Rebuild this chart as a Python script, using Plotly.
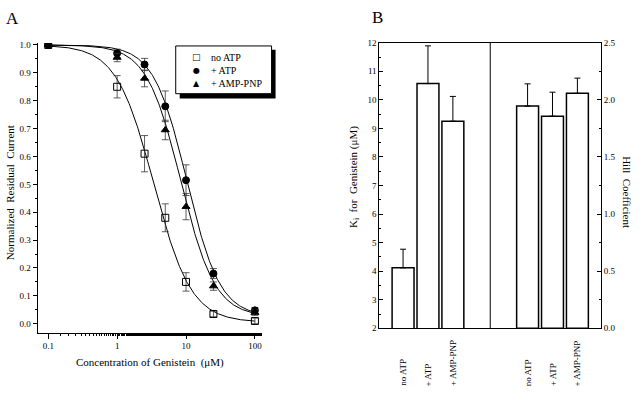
import numpy as np
import plotly.graph_objects as go

# ---------------- Panel A data ----------------
conc = [0.1, 1, 2.5, 5, 10, 25, 100]
noatp = [1.0, 0.85, 0.61, 0.38, 0.15, 0.035, 0.01]
noatp_err = [0.0, 0.04, 0.065, 0.05, 0.033, 0.01, 0.01]
atp = [1.0, 0.97, 0.93, 0.78, 0.515, 0.18, 0.048]
atp_err = [0.0, 0.015, 0.022, 0.055, 0.055, 0.018, 0.01]
amp = [1.0, 0.955, 0.88, 0.695, 0.42, 0.135, 0.04]
amp_err = [0.0, 0.015, 0.03, 0.035, 0.047, 0.015, 0.01]

# fitted dose-response curve parameters
fit_names = ["no ATP", "+ ATP", "+ AMP-PNP"]
fit_K = [3.4, 10.3, 8.4]
fit_n = [1.6, 1.8, 1.75]
fit_base = [0.005, 0.025, 0.025]

legend_labels = ["no ATP", "+ ATP", "+ AMP-PNP"]
legend_glyphs = ["□", "●", "▲"]

# ---------------- Panel B data ----------------
groups = ["no ATP", "+ ATP", "+ AMP-PNP"]
ki_vals = [4.12, 10.57, 9.25]
ki_err = [0.65, 1.32, 0.87]
hill_vals = [1.945, 1.857, 2.057]
hill_err = [0.195, 0.21, 0.133]
ki_pos = [1, 2, 3]
hill_pos = [6, 7, 8]

FONT = "Liberation Serif"
W, H = 640, 396
def px(x):
    return x / W
def py(y):
    return 1 - y / H

fig = go.Figure()

xs = np.geomspace(0.1, 100, 300)
for K, n, b in zip(fit_K, fit_n, fit_base):
    ys = b + (1 - b) / (1 + (xs / K) ** n)
    fig.add_trace(go.Scatter(x=xs, y=ys, mode="lines", line=dict(color="black", width=1),
                             showlegend=False, xaxis="x", yaxis="y", hoverinfo="skip"))

series = [("no ATP", noatp, noatp_err, "square-open"),
          ("+ ATP", atp, atp_err, "circle"),
          ("+ AMP-PNP", amp, amp_err, "triangle-up")]
for name, vals, err, sym in series:
    fig.add_trace(go.Scatter(
        x=conc, y=vals, mode="markers", name=name, showlegend=False,
        marker=dict(symbol=sym, size=7, color="black", line=dict(color="black", width=1)),
        error_y=dict(type="data", array=err, color="#333", thickness=0.8, width=3.5),
        xaxis="x", yaxis="y"))

bar_style = dict(marker=dict(color="white", line=dict(color="black", width=1.5)),
                 width=0.88, showlegend=False)
fig.add_trace(go.Bar(x=ki_pos, y=ki_vals, xaxis="x2", yaxis="y2",
                     error_y=dict(type="data", array=ki_err, arrayminus=[0, 0, 0],
                                  color="black", thickness=1, width=3),
                     **bar_style))
fig.add_trace(go.Bar(x=hill_pos, y=hill_vals, xaxis="x2", yaxis="y3",
                     error_y=dict(type="data", array=hill_err, arrayminus=[0, 0, 0],
                                  color="black", thickness=1, width=3),
                     **bar_style))

tickfont = dict(family=FONT, size=9, color="black")

fig.update_layout(
    width=W, height=H,
    margin=dict(l=0, r=0, t=0, b=0),
    paper_bgcolor="white", plot_bgcolor="white",
    font=dict(family=FONT, color="black"),
    barmode="overlay",
    showlegend=False,
    xaxis=dict(domain=[px(37.7), px(262)], type="log", range=[-1.154, 2.097],
               tickvals=[0.1, 1, 10, 100], ticktext=["0.1", "1", "10", "100"],
               ticks="outside", ticklen=5, tickwidth=1, tickcolor="black",
               minor=dict(ticks="outside", ticklen=2.5, tickcolor="black", showgrid=False),
               showline=True, linecolor="black", linewidth=1.2, showgrid=False, zeroline=False,
               tickfont=tickfont, anchor="y"),
    yaxis=dict(domain=[py(336), py(39)], range=[-0.0315, 1.007],
               tickvals=[0, 0.1, 0.2, 0.3, 0.4, 0.5, 0.6, 0.7, 0.8, 0.9, 1.0],
               tickformat=".1f",
               ticks="outside", ticklen=4, tickwidth=1, tickcolor="black",
               minor=dict(ticks="outside", ticklen=2, dtick=0.05, tickcolor="black", showgrid=False),
               showline=True, linecolor="black", linewidth=1.2, showgrid=False, zeroline=False,
               tickfont=tickfont, anchor="x"),
    xaxis2=dict(domain=[px(380), px(602)], range=[0.05, 8.95],
                showticklabels=False, ticks="", showline=True, mirror=True,
                linecolor="black", linewidth=1, showgrid=False, zeroline=False, anchor="y2"),
    yaxis2=dict(domain=[py(331.7), py(38.7)], range=[2, 12], dtick=1,
                ticks="inside", ticklen=4, tickcolor="black",
                minor=dict(ticks="inside", ticklen=2, dtick=0.5, tickcolor="black", showgrid=False),
                showline=True, linecolor="black", linewidth=1, showgrid=False, zeroline=False,
                tickfont=tickfont, anchor="x2"),
    yaxis3=dict(domain=[py(331.7), py(38.7)], range=[0, 2.5], tickvals=[0, 0.5, 1.0, 1.5, 2.0, 2.5],
                tickformat=".1f", side="right", overlaying="y2", anchor="x2",
                ticks="inside", ticklen=4, tickcolor="black",
                minor=dict(ticks="inside", ticklen=2, dtick=0.25, tickcolor="black", showgrid=False),
                showline=True, linecolor="black", linewidth=1, showgrid=False, zeroline=False,
                tickfont=tickfont),
)

# legend box with shadow (panel A)
fig.add_shape(type="rect", xref="paper", yref="paper",
              x0=px(180), x1=px(276), y0=py(96), y1=py(46),
              fillcolor="black", line=dict(width=0), layer="above")
fig.add_shape(type="rect", xref="paper", yref="paper",
              x0=px(176), x1=px(272), y0=py(91), y1=py(42),
              fillcolor="white", line=dict(color="black", width=1), layer="above")

# divider in panel B
fig.add_shape(type="line", xref="x2", yref="y2 domain", x0=4.5, x1=4.5, y0=0, y1=1,
              line=dict(color="black", width=1))

C = dict(xref="paper", yref="paper", showarrow=False, xanchor="center", yanchor="middle")
ann = []
for i, (g, lab) in enumerate(zip(legend_glyphs, legend_labels)):
    yy = py(53.5 + 13.5 * i)
    ann.append(dict(C, text=g, x=px(197), y=yy,
                    font=dict(family="DejaVu Sans", size=9 if i == 0 else 8, color="black")))
    ann.append(dict(C, text=lab, x=px(209), y=yy, xanchor="left",
                    font=dict(family=FONT, size=10, color="black")))
ann.append(dict(C, text="A", x=px(13), y=py(14), font=dict(family=FONT, size=17)))
ann.append(dict(C, text="B", x=px(378), y=py(13), font=dict(family=FONT, size=17)))
ann.append(dict(C, text="Concentration of Genistein  (μM)", x=px(150), y=py(367),
                font=dict(family=FONT, size=11)))
ann.append(dict(C, text="Normalized  Residual  Current", x=px(10), y=py(192), textangle=-90,
                font=dict(family=FONT, size=11)))
ann.append(dict(C, text="K<sub>i</sub>  for  Genistein (μM)", x=px(354), y=py(176), textangle=-90,
                font=dict(family=FONT, size=11)))
ann.append(dict(C, text="Hill  Coefficient", x=px(628), y=py(192), textangle=90,
                font=dict(family=FONT, size=11)))
for pos, g in zip(ki_pos + hill_pos, groups + groups):
    ann.append(dict(text=g, x=pos, xref="x2", y=py(393), yref="paper", yanchor="bottom",
                    xanchor="center", showarrow=False, textangle=-90,
                    font=dict(family=FONT, size=9)))
fig.update_layout(annotations=ann)

css_fix = ("document.documentElement.style.margin='0';"
           "document.documentElement.style.padding='0';"
           "document.documentElement.style.overflow='hidden';"
           "document.body.style.margin='0';"
           "document.body.style.padding='0';"
           "document.body.style.overflow='hidden';")
fig.write_html("out.html", config={"displayModeBar": False}, post_script=css_fix)
